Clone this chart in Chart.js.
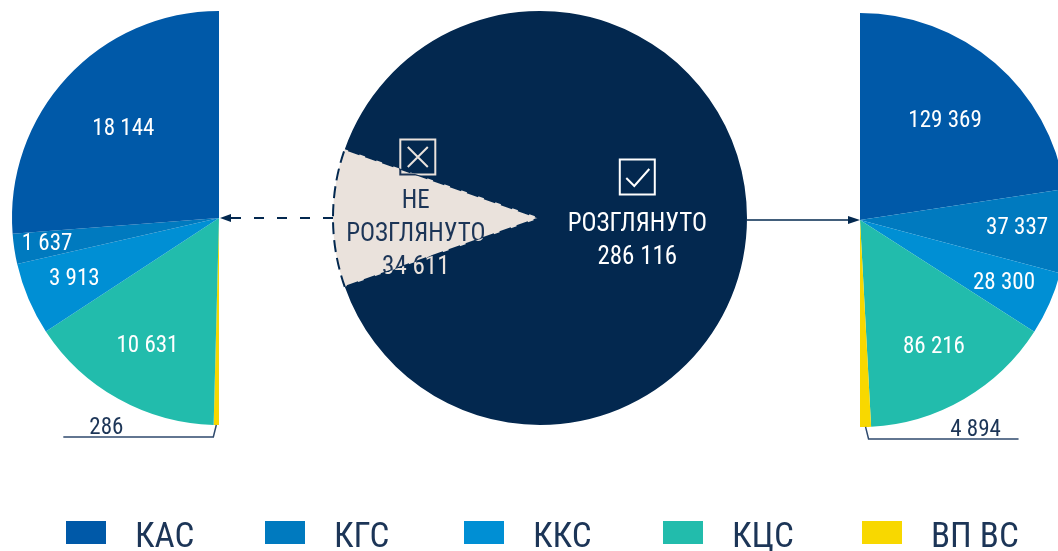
<!DOCTYPE html>
<html>
<head>
<meta charset="utf-8">
<script src="https://cdn.jsdelivr.net/npm/chart.js@4.4.1/dist/chart.umd.min.js"></script>
<style>
  html, body { margin: 0; padding: 0; width: 1058px; height: 551px; overflow: hidden; background: #fff; }
  canvas { position: absolute; left: 0; top: 0; }
  #legend { position: absolute; left: 0; top: 512px; width: 1058px; height: 40px; }
  .item { position: absolute; top: 0; height: 40px; display: flex; align-items: center; }
  .box { width: 40px; height: 23px; margin-right: 29px; }
  .txt { font-family: "Roboto Condensed", "Liberation Sans Narrow", "Arial Narrow", Roboto, sans-serif;
         font-size: 35px; color: #1c3557; line-height: 40px; position: relative; top: 4px; }
</style>
</head>
<body>
<canvas id="leftPie" width="1100" height="551"></canvas>
<canvas id="mainPie" width="1100" height="551"></canvas>
<canvas id="rightPie" width="1100" height="551"></canvas>
<div id="legend"></div>
<script>
// data
const categories = ['КАС', 'КГС', 'ККС', 'КЦС', 'ВП ВС'];
const notReviewedValues = [18144, 1637, 3913, 10631, 286];
const reviewedValues = [129369, 37337, 28300, 86216, 4894];
const statusLabels = ['НЕ РОЗГЛЯНУТО', 'РОЗГЛЯНУТО'];
const statusValues = [34611, 286116];

// look
const categoryColors = ['#0059a8', '#007abf', '#008fd4', '#22bcac', '#f8d800'];
const NAVY = '#03284f';
const BEIGE = '#eae2dc';
const INK = '#1c3557';
const FONT = '"Roboto Condensed", "Liberation Sans Narrow", "Arial Narrow", Roboto, sans-serif';
const W = 1100, H = 551, R = 207;
const LEFT = { x: 219, y: 218 };
const MAIN = { x: 540, y: 218 };
const RIGHT = { x: 860, y: 220 };

const fmt = v => String(v).replace(/\B(?=(\d{3})+(?!\d))/g, ' ');

function arcProps(el) {
    return el.getProps(['x', 'y', 'startAngle', 'endAngle', 'outerRadius'], true);
}

// labels inside/outside the slices of the half pies
const sliceLabels = {
    id: 'sliceLabels',
    afterDatasetsDraw(chart) {
        const ctx = chart.ctx;
        const values = chart.data.datasets[0].data;
        chart.getDatasetMeta(0).data.forEach((arc, i) => {
            const { x, y, startAngle, endAngle, outerRadius } = arcProps(arc);
            const span = endAngle - startAngle;
            const mid = (startAngle + endAngle) / 2;
            ctx.save();
            ctx.font = '23px ' + FONT;
            ctx.textAlign = 'center';
            if (span > 0.1) {
                let f = 0.63;
                if (span < 0.2) f = 0.84;
                else if (span < 0.5) f = 0.76;
                else if (span < 1.2) f = 0.71;
                ctx.textBaseline = 'middle';
                ctx.fillStyle = '#fff';
                ctx.fillText(fmt(values[i]), x + Math.cos(mid) * outerRadius * f, y + Math.sin(mid) * outerRadius * f);
            } else {
                // tiny slice: elbow leader line under the pie
                const dir = Math.cos(mid) < 0 ? -1 : 1;
                const px = x + Math.cos(mid) * outerRadius;
                const py = y + Math.sin(mid) * outerRadius;
                const ly = y + outerRadius + 12;
                ctx.strokeStyle = '#2f4a6e';
                ctx.lineWidth = 1.5;
                ctx.beginPath();
                ctx.moveTo(px, py);
                ctx.lineTo(px + dir * 3, ly);
                ctx.lineTo(px + dir * 153, ly);
                ctx.stroke();
                ctx.fillStyle = INK;
                ctx.textBaseline = 'alphabetic';
                ctx.fillText(fmt(values[i]), px + dir * 110, ly - 3);
            }
            ctx.restore();
        });
    }
};

function wedgePath(ctx, p) {
    ctx.beginPath();
    ctx.moveTo(p.x, p.y);
    ctx.arc(p.x, p.y, p.outerRadius + 1, p.startAngle, p.endAngle);
    ctx.closePath();
}

function drawBox(ctx, cx, cy, color, mark) {
    const s = 35;
    ctx.strokeStyle = color;
    ctx.lineWidth = 2;
    ctx.strokeRect(cx - s / 2, cy - s / 2, s, s);
    ctx.beginPath();
    if (mark === 'x') {
        ctx.moveTo(cx - 10, cy - 10); ctx.lineTo(cx + 10, cy + 10);
        ctx.moveTo(cx + 10, cy - 10); ctx.lineTo(cx - 10, cy + 10);
    } else {
        ctx.moveTo(cx - 11, cy + 1); ctx.lineTo(cx - 3, cy + 9); ctx.lineTo(cx + 12, cy - 8);
    }
    ctx.stroke();
}

// texts and icons of the main pie
const statusText = {
    id: 'statusText',
    afterDatasetsDraw(chart) {
        const ctx = chart.ctx;
        const arcs = chart.getDatasetMeta(0).data.map(arcProps);
        const values = chart.data.datasets[0].data;

        const drawNot = color => {
            const p = arcs[0];
            const mid = (p.startAngle + p.endAngle) / 2;
            const cx = p.x + Math.cos(mid) * p.outerRadius * 0.6;
            const cy = p.y + Math.sin(mid) * p.outerRadius * 0.6;
            drawBox(ctx, cx + 2, cy - 61, color, 'x');
            ctx.fillStyle = color;
            ctx.font = '25px ' + FONT;
            ctx.textAlign = 'center';
            ctx.textBaseline = 'middle';
            const lines = statusLabels[0].split(' ').concat(fmt(values[0]));
            lines.forEach((t, k) => ctx.fillText(t, cx, cy - 16 + k * 33));
        };
        // navy inside the light wedge, light where it runs over the dark slice
        ctx.save(); wedgePath(ctx, arcs[0]); ctx.clip(); drawNot(INK); ctx.restore();
        ctx.save(); wedgePath(ctx, arcs[1]); ctx.clip(); drawNot(BEIGE); ctx.restore();

        const p = arcs[1];
        const mid = (p.startAngle + p.endAngle) / 2;
        const cx = p.x + Math.cos(mid) * p.outerRadius * 0.47;
        const cy = p.y + Math.sin(mid) * p.outerRadius * 0.47;
        ctx.save();
        drawBox(ctx, cx, cy - 41, '#fff', 'check');
        ctx.fillStyle = '#fff';
        ctx.font = '25px ' + FONT;
        ctx.textAlign = 'center';
        ctx.textBaseline = 'middle';
        ctx.fillText(statusLabels[1], cx, cy + 7);
        ctx.fillText(fmt(values[1]), cx, cy + 40);
        ctx.restore();
    }
};

function arrowHead(ctx, x, y, dir, len, half) {
    ctx.beginPath();
    ctx.moveTo(x, y);
    ctx.lineTo(x - dir * len, y - half);
    ctx.lineTo(x - dir * len, y + half);
    ctx.closePath();
    ctx.fill();
}

let leftChart, mainChart;

// arrows between the main pie and the half pies
const connectors = {
    id: 'connectors',
    afterDraw(chart) {
        const ctx = chart.ctx;
        const l = arcProps(leftChart.getDatasetMeta(0).data[0]);
        const m = arcProps(mainChart.getDatasetMeta(0).data[0]);
        const r = arcProps(chart.getDatasetMeta(0).data[0]);
        ctx.save();
        ctx.strokeStyle = NAVY;
        ctx.fillStyle = NAVY;
        // dashed to the left
        ctx.lineWidth = 2;
        ctx.setLineDash([10, 13]);
        ctx.beginPath();
        ctx.moveTo(m.x - m.outerRadius, l.y);
        ctx.lineTo(l.x + 10, l.y);
        ctx.stroke();
        ctx.setLineDash([]);
        arrowHead(ctx, l.x + 1, l.y, -1, 11, 4);
        // solid to the right
        ctx.lineWidth = 1.5;
        ctx.beginPath();
        ctx.moveTo(m.x + m.outerRadius, r.y);
        ctx.lineTo(r.x - 8, r.y);
        ctx.stroke();
        arrowHead(ctx, r.x, r.y, 1, 12, 4);
        ctx.restore();
    }
};

const baseOptions = padding => ({
    responsive: false,
    animation: false,
    events: [],
    layout: { padding: padding },
    plugins: { legend: { display: false }, tooltip: { enabled: false } }
});

// left half: slices run clockwise from the bottom up to the top
leftChart = new Chart(document.getElementById('leftPie'), {
    type: 'pie',
    data: {
        labels: categories.slice().reverse(),
        datasets: [{
            data: notReviewedValues.slice().reverse(),
            backgroundColor: categoryColors.slice().reverse(),
            borderWidth: 0,
            hoverOffset: 0,
            radius: R,
            rotation: 180,
            circumference: 180
        }]
    },
    options: baseOptions({ left: LEFT.x - R, right: W - LEFT.x, top: LEFT.y - R, bottom: H - LEFT.y - R }),
    plugins: [sliceLabels]
});

// main pie, the light wedge centred on the left side
const wedgeDeg = 360 * statusValues[0] / statusValues.reduce((a, b) => a + b, 0);
mainChart = new Chart(document.getElementById('mainPie'), {
    type: 'pie',
    data: {
        labels: statusLabels,
        datasets: [{
            data: statusValues,
            backgroundColor: [BEIGE, NAVY],
            borderColor: [NAVY, NAVY],
            borderWidth: [2, 0],
            borderDash: c => (c.dataIndex === 0 ? [12, 6] : []),
            hoverOffset: 0,
            radius: R,
            rotation: 270 - wedgeDeg / 2
        }]
    },
    options: baseOptions({ left: MAIN.x - R, right: W - MAIN.x - R, top: MAIN.y - R, bottom: H - MAIN.y - R }),
    plugins: [statusText]
});

// right half: clockwise from the top down to the bottom
new Chart(document.getElementById('rightPie'), {
    type: 'pie',
    data: {
        labels: categories,
        datasets: [{
            data: reviewedValues,
            backgroundColor: categoryColors,
            borderWidth: 0,
            hoverOffset: 0,
            radius: R,
            rotation: 0,
            circumference: 180
        }]
    },
    options: baseOptions({ left: RIGHT.x, right: W - RIGHT.x - R, top: RIGHT.y - R, bottom: H - RIGHT.y - R }),
    plugins: [sliceLabels, connectors]
});

// legend
const legend = document.getElementById('legend');
categories.forEach((name, i) => {
    const item = document.createElement('div');
    item.className = 'item';
    item.style.left = (66 + i * 199) + 'px';
    item.innerHTML = '<div class="box" style="background:' + categoryColors[i] + '"></div><span class="txt">' + name + '</span>';
    legend.appendChild(item);
});
</script>
</body>
</html>
